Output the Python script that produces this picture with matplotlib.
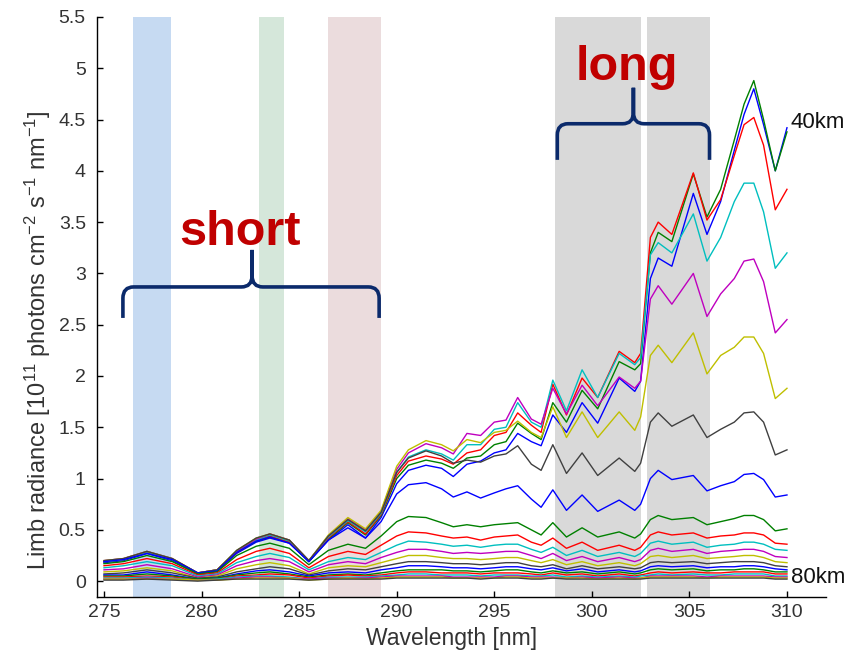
import matplotlib
matplotlib.use('Agg')
import matplotlib.pyplot as plt
from matplotlib.path import Path
from matplotlib.patches import PathPatch

plt.rcParams['font.family'] = ['Liberation Sans', 'DejaVu Sans']
plt.rcParams['mathtext.fontset'] = 'custom'
plt.rcParams['mathtext.rm'] = 'Liberation Sans'
plt.rcParams['mathtext.it'] = 'Liberation Sans:italic'
plt.rcParams['mathtext.bf'] = 'Liberation Sans:bold'

# ---------------- data ----------------
wavelength = [275.0, 276.0, 277.2, 278.5, 279.8, 280.8, 281.8, 282.8, 283.5, 284.5,
              285.5, 286.5, 287.5, 288.4, 289.2, 290.0, 290.6, 291.5, 292.3, 292.9,
              293.6, 294.3, 295.0, 295.6, 296.2, 296.9, 297.4, 298.0, 298.7, 299.5,
              300.3, 301.4, 302.2, 302.5, 303.0, 303.4, 304.1, 305.2, 305.9,
              306.6, 307.3, 307.8, 308.3, 308.8, 309.4, 310.0]

altitudes_km = [40, 42, 44, 46, 48, 50, 52, 54, 56, 58, 60,
                62, 64, 66, 68, 70, 72, 74, 76, 78, 80]

rad_40 = [0.18, 0.20, 0.27, 0.20, 0.07, 0.10, 0.27, 0.38, 0.42, 0.37,
          0.19, 0.40, 0.55, 0.42, 0.62, 0.95, 1.08, 1.13, 1.10, 1.02,
          1.14, 1.17, 1.25, 1.28, 1.44, 1.36, 1.32, 1.62, 1.45, 1.74,
          1.54, 1.98, 1.85, 1.95, 2.95, 3.15, 3.07, 3.78, 3.38,
          3.70, 4.20, 4.55, 4.80, 4.45, 4.00, 4.42]
rad_42 = [0.19, 0.21, 0.28, 0.21, 0.07, 0.10, 0.28, 0.39, 0.43, 0.38,
          0.19, 0.41, 0.57, 0.45, 0.64, 1.00, 1.13, 1.18, 1.15, 1.10,
          1.20, 1.22, 1.33, 1.36, 1.54, 1.44, 1.38, 1.74, 1.55, 1.86,
          1.68, 2.14, 2.06, 2.12, 3.20, 3.40, 3.31, 3.97, 3.55,
          3.82, 4.30, 4.65, 4.88, 4.50, 4.00, 4.38]
rad_44 = [0.19, 0.21, 0.28, 0.21, 0.08, 0.11, 0.28, 0.40, 0.44, 0.38,
          0.20, 0.42, 0.58, 0.46, 0.65, 1.03, 1.17, 1.22, 1.19, 1.14,
          1.25, 1.28, 1.42, 1.45, 1.64, 1.52, 1.45, 1.92, 1.62, 1.98,
          1.79, 2.24, 2.13, 2.22, 3.35, 3.50, 3.38, 3.98, 3.52,
          3.72, 4.15, 4.45, 4.52, 4.25, 3.62, 3.82]
rad_46 = [0.19, 0.21, 0.28, 0.21, 0.08, 0.11, 0.29, 0.40, 0.45, 0.39,
          0.20, 0.43, 0.59, 0.48, 0.66, 1.06, 1.21, 1.28, 1.24, 1.18,
          1.33, 1.33, 1.48, 1.50, 1.74, 1.55, 1.50, 1.96, 1.66, 2.06,
          1.79, 2.22, 2.11, 2.18, 3.18, 3.30, 3.20, 3.58, 3.12,
          3.35, 3.70, 3.88, 3.88, 3.60, 3.05, 3.20]
rad_48 = [0.20, 0.22, 0.29, 0.22, 0.08, 0.11, 0.29, 0.41, 0.46, 0.40,
          0.20, 0.44, 0.61, 0.50, 0.68, 1.09, 1.25, 1.34, 1.30, 1.24,
          1.44, 1.42, 1.55, 1.57, 1.79, 1.58, 1.53, 1.88, 1.63, 1.91,
          1.71, 1.99, 1.88, 1.95, 2.75, 2.88, 2.70, 3.00, 2.58,
          2.80, 2.95, 3.12, 3.14, 2.92, 2.42, 2.55]
rad_50 = [0.20, 0.22, 0.29, 0.22, 0.08, 0.11, 0.30, 0.42, 0.46, 0.40,
          0.20, 0.45, 0.62, 0.51, 0.69, 1.12, 1.28, 1.37, 1.33, 1.27,
          1.38, 1.35, 1.45, 1.47, 1.56, 1.45, 1.40, 1.70, 1.40, 1.65,
          1.40, 1.65, 1.47, 1.60, 2.20, 2.30, 2.13, 2.42, 2.02,
          2.20, 2.28, 2.38, 2.38, 2.22, 1.78, 1.88]
rad_52 = [0.20, 0.22, 0.29, 0.22, 0.08, 0.11, 0.30, 0.42, 0.46, 0.40,
          0.20, 0.44, 0.60, 0.49, 0.67, 1.06, 1.20, 1.27, 1.22, 1.15,
          1.18, 1.16, 1.22, 1.24, 1.32, 1.14, 1.08, 1.33, 1.05, 1.25,
          1.03, 1.20, 1.07, 1.15, 1.55, 1.64, 1.51, 1.62, 1.40,
          1.48, 1.55, 1.64, 1.65, 1.55, 1.23, 1.28]
rad_54 = [0.19, 0.21, 0.27, 0.21, 0.08, 0.10, 0.28, 0.39, 0.43, 0.37,
          0.19, 0.40, 0.52, 0.42, 0.58, 0.85, 0.94, 0.96, 0.90, 0.82,
          0.87, 0.81, 0.86, 0.90, 0.93, 0.80, 0.72, 0.89, 0.69, 0.84,
          0.68, 0.79, 0.69, 0.75, 1.00, 1.08, 0.99, 1.03, 0.88,
          0.93, 0.97, 1.04, 1.05, 0.99, 0.82, 0.84]
rad_56 = [0.17, 0.19, 0.25, 0.19, 0.07, 0.09, 0.25, 0.34, 0.37, 0.32,
          0.16, 0.30, 0.36, 0.32, 0.44, 0.58, 0.63, 0.62, 0.57, 0.53,
          0.55, 0.53, 0.55, 0.56, 0.57, 0.50, 0.45, 0.57, 0.43, 0.52,
          0.43, 0.48, 0.42, 0.46, 0.60, 0.64, 0.60, 0.62, 0.55,
          0.58, 0.61, 0.64, 0.64, 0.60, 0.49, 0.51]
rad_58 = [0.15, 0.17, 0.22, 0.17, 0.06, 0.08, 0.21, 0.29, 0.32, 0.27,
          0.13, 0.24, 0.29, 0.26, 0.35, 0.44, 0.48, 0.47, 0.44, 0.42,
          0.43, 0.40, 0.43, 0.44, 0.45, 0.38, 0.35, 0.42, 0.32, 0.38,
          0.30, 0.35, 0.30, 0.33, 0.45, 0.48, 0.45, 0.47, 0.42,
          0.44, 0.45, 0.47, 0.47, 0.45, 0.37, 0.36]
rad_60 = [0.13, 0.15, 0.19, 0.15, 0.05, 0.07, 0.18, 0.24, 0.27, 0.23,
          0.11, 0.19, 0.23, 0.21, 0.28, 0.35, 0.39, 0.38, 0.36, 0.34,
          0.35, 0.33, 0.35, 0.36, 0.36, 0.31, 0.28, 0.33, 0.25, 0.30,
          0.24, 0.28, 0.24, 0.27, 0.37, 0.39, 0.36, 0.38, 0.33,
          0.35, 0.36, 0.38, 0.38, 0.36, 0.31, 0.30]
rad_62 = [0.11, 0.12, 0.16, 0.12, 0.04, 0.06, 0.15, 0.20, 0.22, 0.19,
          0.09, 0.16, 0.19, 0.17, 0.23, 0.28, 0.31, 0.31, 0.29, 0.27,
          0.28, 0.27, 0.28, 0.29, 0.29, 0.25, 0.22, 0.27, 0.20, 0.24,
          0.19, 0.23, 0.19, 0.21, 0.30, 0.32, 0.29, 0.31, 0.27,
          0.29, 0.30, 0.31, 0.31, 0.29, 0.24, 0.23]
rad_64 = [0.09, 0.10, 0.13, 0.10, 0.03, 0.05, 0.12, 0.16, 0.18, 0.15,
          0.07, 0.13, 0.15, 0.14, 0.18, 0.22, 0.25, 0.25, 0.23, 0.22,
          0.22, 0.21, 0.22, 0.23, 0.23, 0.20, 0.18, 0.21, 0.16, 0.19,
          0.15, 0.18, 0.15, 0.17, 0.24, 0.25, 0.23, 0.25, 0.22,
          0.23, 0.24, 0.25, 0.25, 0.23, 0.19, 0.18]
rad_66 = [0.07, 0.08, 0.11, 0.08, 0.03, 0.04, 0.09, 0.12, 0.14, 0.12,
          0.06, 0.10, 0.12, 0.11, 0.14, 0.17, 0.19, 0.19, 0.18, 0.17,
          0.17, 0.16, 0.17, 0.18, 0.18, 0.15, 0.14, 0.16, 0.12, 0.15,
          0.12, 0.14, 0.12, 0.13, 0.18, 0.19, 0.18, 0.19, 0.17,
          0.18, 0.19, 0.19, 0.19, 0.18, 0.15, 0.14]
rad_68 = [0.06, 0.06, 0.09, 0.06, 0.02, 0.03, 0.07, 0.10, 0.11, 0.09,
          0.05, 0.08, 0.09, 0.08, 0.11, 0.13, 0.15, 0.15, 0.14, 0.13,
          0.13, 0.12, 0.13, 0.14, 0.14, 0.12, 0.11, 0.13, 0.10, 0.12,
          0.09, 0.11, 0.09, 0.10, 0.14, 0.15, 0.14, 0.15, 0.13,
          0.14, 0.14, 0.15, 0.15, 0.14, 0.12, 0.11]
rad_70 = [0.05, 0.05, 0.07, 0.05, 0.02, 0.03, 0.06, 0.08, 0.09, 0.07,
          0.04, 0.06, 0.07, 0.06, 0.08, 0.10, 0.11, 0.11, 0.11, 0.10,
          0.10, 0.09, 0.10, 0.11, 0.11, 0.09, 0.08, 0.10, 0.08, 0.09,
          0.07, 0.09, 0.07, 0.08, 0.11, 0.12, 0.11, 0.12, 0.10,
          0.11, 0.11, 0.12, 0.12, 0.11, 0.09, 0.09]
rad_72 = [0.04, 0.04, 0.05, 0.04, 0.01, 0.02, 0.05, 0.06, 0.07, 0.06,
          0.03, 0.05, 0.06, 0.05, 0.06, 0.08, 0.09, 0.09, 0.08, 0.08,
          0.08, 0.07, 0.08, 0.08, 0.08, 0.07, 0.06, 0.08, 0.06, 0.07,
          0.05, 0.07, 0.05, 0.06, 0.08, 0.09, 0.08, 0.09, 0.08,
          0.08, 0.09, 0.09, 0.09, 0.09, 0.07, 0.07]
rad_74 = [0.03, 0.03, 0.04, 0.03, 0.01, 0.02, 0.04, 0.05, 0.05, 0.04,
          0.02, 0.04, 0.04, 0.04, 0.05, 0.06, 0.07, 0.07, 0.06, 0.06,
          0.06, 0.05, 0.06, 0.06, 0.06, 0.05, 0.05, 0.06, 0.04, 0.05,
          0.04, 0.05, 0.04, 0.05, 0.06, 0.07, 0.06, 0.07, 0.06,
          0.06, 0.07, 0.07, 0.07, 0.07, 0.05, 0.05]
rad_76 = [0.02, 0.02, 0.03, 0.02, 0.01, 0.01, 0.03, 0.04, 0.04, 0.03,
          0.02, 0.03, 0.03, 0.03, 0.04, 0.05, 0.05, 0.05, 0.05, 0.04,
          0.04, 0.04, 0.04, 0.05, 0.05, 0.04, 0.04, 0.04, 0.03, 0.04,
          0.03, 0.04, 0.03, 0.03, 0.05, 0.05, 0.05, 0.05, 0.04,
          0.05, 0.05, 0.05, 0.05, 0.05, 0.04, 0.04]
rad_78 = [0.02, 0.02, 0.02, 0.02, 0.01, 0.01, 0.02, 0.03, 0.03, 0.03,
          0.01, 0.02, 0.03, 0.02, 0.03, 0.04, 0.04, 0.04, 0.04, 0.03,
          0.03, 0.03, 0.03, 0.04, 0.04, 0.03, 0.03, 0.03, 0.03, 0.03,
          0.02, 0.03, 0.02, 0.03, 0.04, 0.04, 0.04, 0.04, 0.03,
          0.04, 0.04, 0.04, 0.04, 0.04, 0.03, 0.03]
rad_80 = [0.01, 0.01, 0.02, 0.01, 0.00, 0.01, 0.02, 0.02, 0.02, 0.02,
          0.01, 0.02, 0.02, 0.02, 0.02, 0.03, 0.03, 0.03, 0.03, 0.03,
          0.03, 0.02, 0.03, 0.03, 0.03, 0.02, 0.02, 0.03, 0.02, 0.02,
          0.02, 0.02, 0.02, 0.02, 0.03, 0.03, 0.03, 0.03, 0.03,
          0.03, 0.03, 0.03, 0.03, 0.03, 0.02, 0.02]

radiances = [rad_40, rad_42, rad_44, rad_46, rad_48, rad_50, rad_52, rad_54,
             rad_56, rad_58, rad_60, rad_62, rad_64, rad_66, rad_68, rad_70,
             rad_72, rad_74, rad_76, rad_78, rad_80]

# shaded wavelength windows (nm)
band_starts = [276.5, 282.95, 286.47, 298.1, 302.83]
band_ends = [278.45, 284.2, 289.2, 302.5, 306.03]
band_colors = ['#c6daf2', '#d5e7da', '#ebdcdd', '#d9d9d9', '#d9d9d9']

xticks = [275, 280, 285, 290, 295, 300, 305, 310]
yticks = [0, 0.5, 1, 1.5, 2, 2.5, 3, 3.5, 4, 4.5, 5, 5.5]
ytick_labels = ['0', '0.5', '1', '1.5', '2', '2.5', '3', '3.5', '4', '4.5', '5', '5.5']

matlab_colors = [(0, 0, 1), (0, 0.5, 0), (1, 0, 0), (0, 0.75, 0.75),
                 (0.75, 0, 0.75), (0.75, 0.75, 0), (0.25, 0.25, 0.25)]

# ---------------- figure ----------------
fig = plt.figure(figsize=(8.52, 6.63), dpi=100)
ax = fig.add_axes([0.1138, 0.0995, 0.8557, 0.8749])

for s, e, c in zip(band_starts, band_ends, band_colors):
    ax.axvspan(s, e, color=c, lw=0, zorder=0)

for i, r in enumerate(radiances):
    assert len(r) == len(wavelength)
    ax.plot(wavelength, r, color=matlab_colors[i % 7], lw=1.0, zorder=2)

ax.set_xlim(274.64, 312.0)
ax.set_ylim(-0.155, 5.5)
ax.set_xticks(xticks)
ax.set_yticks(yticks)
ax.set_yticklabels(ytick_labels)
for sp in ['top', 'right']:
    ax.spines[sp].set_visible(False)
for sp in ['left', 'bottom']:
    ax.spines[sp].set_linewidth(1.0)
ax.tick_params(direction='in', length=4.5, width=1.0, labelsize=14,
               labelcolor='#333333')
ax.tick_params(axis='y', pad=8)
ax.tick_params(axis='x', pad=5)

ax.set_xlabel('Wavelength [nm]', fontsize=16.5, color='#333333')
ax.set_ylabel(r'Limb radiance [10$^{11}$ photons cm$^{-2}$ s$^{-1}$ nm$^{-1}$]',
              fontsize=17, color='#333333')
ax.xaxis.set_label_coords(0.486, -0.052)
ax.yaxis.set_label_coords(-0.060, 0.443)

# altitude labels
ax.text(310.2, 4.47, '40km', fontsize=16, va='center', ha='left', color='#111111')
ax.text(310.2, 0.04, '80km', fontsize=16, va='center', ha='left', color='#111111')


def brace(x0, x1, xc, y_end, y_h, y_tip, rx, ry):
    verts = [(x0, y_end), (x0, y_h - ry), (x0, y_h), (x0 + rx, y_h),
             (xc - rx, y_h), (xc, y_h), (xc, y_h + ry), (xc, y_tip),
             (x1, y_end), (x1, y_h - ry), (x1, y_h), (x1 - rx, y_h),
             (xc + rx, y_h), (xc, y_h), (xc, y_h + ry), (xc, y_tip)]
    codes = [Path.MOVETO, Path.LINETO, Path.CURVE3, Path.CURVE3,
             Path.LINETO, Path.CURVE3, Path.CURVE3, Path.LINETO] * 2
    p = PathPatch(Path(verts, codes), fill=False, edgecolor='#0b2a6b',
                  lw=2.6, joinstyle='round', capstyle='butt', zorder=5,
                  clip_on=False)
    ax.add_patch(p)


brace(275.97, 289.10, 282.59, 2.566, 2.868, 3.229, 0.55, 0.11)
brace(298.23, 306.03, 302.13, 4.107, 4.459, 4.81, 0.55, 0.11)

ax.text(281.97, 3.28, 'short', fontsize=35, fontweight='bold', color='#c00000',
        ha='center', va='baseline', zorder=6)
ax.text(301.8, 4.89, 'long', fontsize=35, fontweight='bold', color='#c00000',
        ha='center', va='baseline', zorder=6)

fig.savefig('out.png', dpi=100)
